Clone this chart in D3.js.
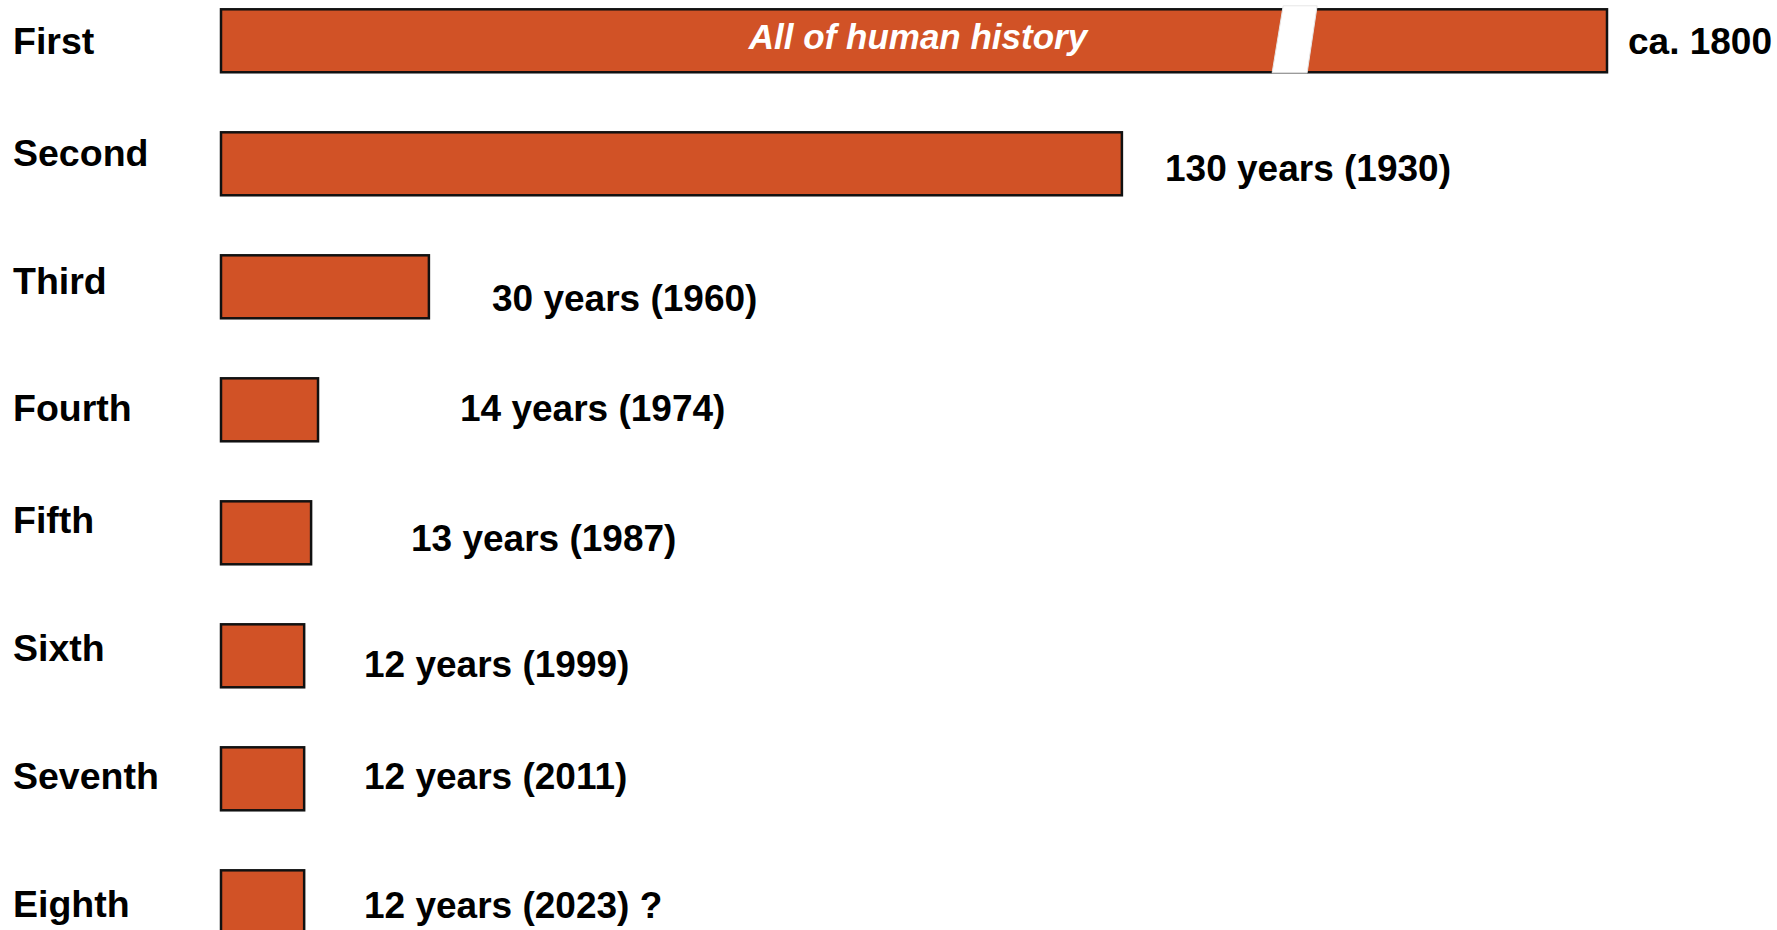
<!DOCTYPE html>
<html>
<head>
<meta charset="utf-8">
<script src="https://cdn.jsdelivr.net/npm/d3@7"></script>
<style>
  body { margin: 0; background: #fff; }
  svg { display: block; }
  text { font-family: "Liberation Sans", Arial, sans-serif; font-weight: bold; }
</style>
</head>
<body>
<script>
// data
var categories = ["First", "Second", "Third", "Fourth", "Fifth", "Sixth", "Seventh", "Eighth"];
var years = [200, 130, 30, 14, 13, 12, 12, 12];   // first bar is drawn broken, 200 is just its drawn length
var valueLabels = ["ca. 1800", "130 years (1930)", "30 years (1960)", "14 years (1974)",
                   "13 years (1987)", "12 years (1999)", "12 years (2011)", "12 years (2023) ?"];
var firstBarText = "All of human history";

// layout (hand placed like the slide)
var catLabelDy = [45, 34, 39, 43, 32, 37, 42, 47];
var valLabelX = [1628, 1165, 492, 460, 411, 364, 364, 364];
var valLabelDy = [45, 49, 56, 43, 50, 53, 42, 48];
var breakAt = 155;

var width = 1777, height = 930;

var svg = d3.select("body").append("svg")
  .attr("width", width)
  .attr("height", height);

// scales
var x = d3.scaleLinear()
  .domain([0, 200])
  .range([221, 1607]);

var y = d3.scaleBand()
  .domain(categories)
  .range([9.3, 9.3 + 8 * 123 - 60])
  .paddingInner(0.488)
  .paddingOuter(0);

// bars
svg.selectAll("rect.bar").data(categories)
  .enter().append("rect")
    .attr("class", "bar")
    .attr("x", x(0))
    .attr("y", function(d){ return y(d); })
    .attr("width", function(d, i){ return x(years[i]) - x(0); })
    .attr("height", y.bandwidth())
    .attr("fill", "#D15226")
    .attr("stroke", "#111")
    .attr("stroke-width", 2.5);

// axis break on the first bar
var bx = x(breakAt), by0 = y(categories[0]) - 3.5, by1 = y(categories[0]) + y.bandwidth() + 0.5;
svg.append("polygon")
  .attr("points", [[bx - 12, by0], [bx + 22, by0], [bx + 12, by1], [bx - 23, by1]].join(" "))
  .attr("fill", "#fff")
  .attr("stroke", "#e6e6e6")
  .attr("stroke-width", 1);

// text inside first bar
svg.append("text")
  .attr("x", 918)
  .attr("y", y(categories[0]) + 40)
  .attr("text-anchor", "middle")
  .attr("fill", "#fff")
  .style("font-style", "italic")
  .style("font-size", "35px")
  .text(firstBarText);

// category labels
svg.selectAll("text.cat").data(categories)
  .enter().append("text")
    .attr("class", "cat")
    .attr("x", 13)
    .attr("y", function(d, i){ return y(d) + catLabelDy[i]; })
    .style("font-size", "37.5px")
    .attr("fill", "#000")
    .text(function(d){ return d; });

// value labels
svg.selectAll("text.val").data(valueLabels)
  .enter().append("text")
    .attr("class", "val")
    .attr("x", function(d, i){ return valLabelX[i]; })
    .attr("y", function(d, i){ return y(categories[i]) + valLabelDy[i]; })
    .style("font-size", "37px")
    .attr("fill", "#000")
    .text(function(d){ return d; });
</script>
</body>
</html>
